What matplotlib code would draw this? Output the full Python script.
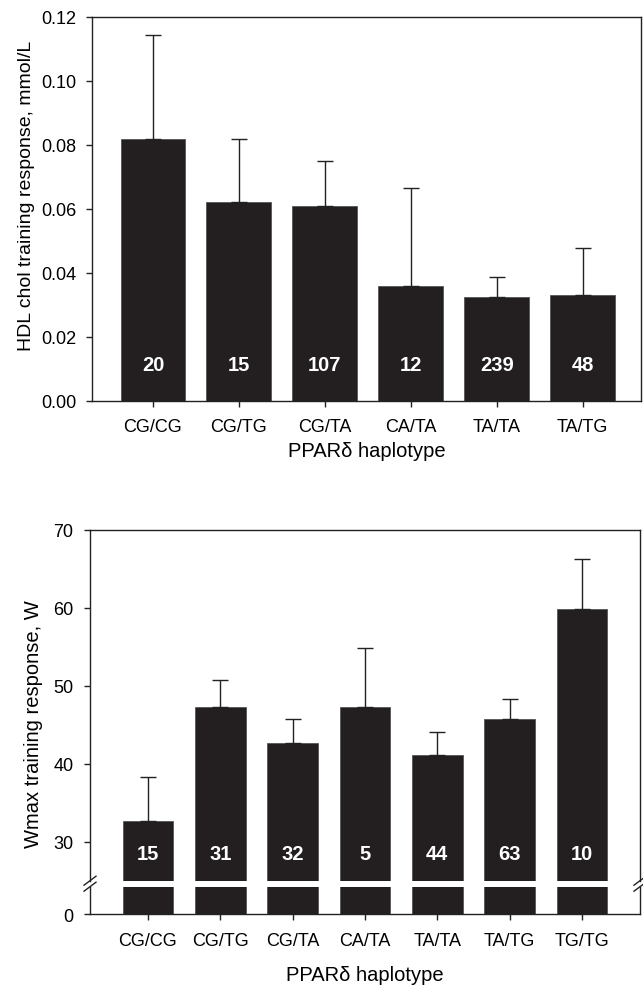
import matplotlib.pyplot as plt
from matplotlib.lines import Line2D

plt.rcParams['font.family'] = ['Liberation Sans', 'DejaVu Sans']

# top panel: HDL cholesterol
hdl_cats = ['CG/CG', 'CG/TG', 'CG/TA', 'CA/TA', 'TA/TA', 'TA/TG']
hdl_mean = [0.0819, 0.0622, 0.0609, 0.0358, 0.0324, 0.0331]
hdl_err = [0.0326, 0.0197, 0.0140, 0.0307, 0.0064, 0.0148]
hdl_n = ['20', '15', '107', '12', '239', '48']

# bottom panel: Wmax
w_cats = ['CG/CG', 'CG/TG', 'CG/TA', 'CA/TA', 'TA/TA', 'TA/TG', 'TG/TG']
w_mean = [32.6, 47.25, 42.67, 47.25, 41.13, 45.71, 59.87]
w_err = [5.77, 3.47, 3.08, 7.58, 2.91, 2.61, 6.42]
w_n = ['15', '31', '32', '5', '44', '63', '10']

bar_color = '#231f20'
W, H = 643, 987

fig = plt.figure(figsize=(W / 100, H / 100), dpi=100)


def px_axes(l, t, r, b):
    return fig.add_axes([l / W, 1 - b / H, (r - l) / W, (b - t) / H])


def style(ax):
    for s in ax.spines.values():
        s.set_linewidth(1.0)
        s.set_color('#222222')
    ax.tick_params(direction='out', length=4, width=1, labelsize=13, color='#222222')


# ---- top chart ----
ax1 = px_axes(92, 18, 641, 402)
x1 = range(len(hdl_cats))
ax1.bar(x1, hdl_mean, width=0.755, color=bar_color, edgecolor='#555555', linewidth=0.6)
ax1.errorbar(x1, hdl_mean, yerr=[[0] * len(hdl_err), hdl_err], fmt='none',
             ecolor='#222222', elinewidth=1, capsize=5.5, capthick=1)
for i, n in enumerate(hdl_n):
    ax1.text(i, 0.0113, n, color='white', fontsize=14.5, fontweight='bold',
             ha='center', va='center')
ax1.set_xlim(-0.71, 5.68)
ax1.set_ylim(0, 0.12)
ax1.set_yticks([0, 0.02, 0.04, 0.06, 0.08, 0.10, 0.12])
ax1.set_yticklabels(['0.00', '0.02', '0.04', '0.06', '0.08', '0.10', '0.12'])
ax1.set_xticks(list(x1))
ax1.set_xticklabels(hdl_cats)
style(ax1)
ax1.tick_params(axis='x', pad=8)
ax1.tick_params(axis='y', pad=7)
ax1.set_xlabel('PPARδ haplotype', fontsize=14.5, labelpad=4.5)
ax1.set_ylabel('HDL chol training response, mmol/L', fontsize=14)
ax1.yaxis.set_label_coords(-0.103, 0.536)

# ---- bottom chart (broken axis) ----
ax2 = px_axes(90, 531, 640, 881.7)
ax3 = px_axes(90, 887.7, 640, 915.3)
x2 = range(len(w_cats))
for ax in (ax2, ax3):
    ax.bar(x2, w_mean, width=0.70, color=bar_color, edgecolor='#555555', linewidth=0.6)
    ax.set_xlim(-0.8, 6.8)
    style(ax)
ax2.errorbar(x2, w_mean, yerr=[[0] * len(w_err), w_err], fmt='none',
             ecolor='#222222', elinewidth=1, capsize=5.5, capthick=1)
for i, n in enumerate(w_n):
    ax2.text(i, 28.55, n, color='white', fontsize=14.5, fontweight='bold',
             ha='center', va='center')
ax2.set_ylim(25, 70)
ax2.set_yticks([30, 40, 50, 60, 70])
ax2.spines['bottom'].set_visible(False)
ax2.tick_params(axis='x', bottom=False, labelbottom=False)
ax2.tick_params(axis='y', pad=8)
ax2.set_ylabel('Wmax training response, W', fontsize=14.5)
ax2.yaxis.set_label_coords(-0.085, 0.45)

ax3.set_ylim(0, 3.54)
ax3.set_yticks([0])
ax3.spines['top'].set_visible(False)
ax3.set_xticks(list(x2))
ax3.set_xticklabels(w_cats)
ax3.tick_params(axis='x', pad=9)
ax3.tick_params(axis='y', pad=8)
ax3.set_xlabel('PPARδ haplotype', fontsize=14.5, labelpad=11.5)

# break marks on both spines
for xs in (90, 640):
    for yc in (881.7, 887.7):
        fig.add_artist(Line2D([(xs - 6) / W, (xs + 6) / W],
                              [1 - (yc + 4.5) / H, 1 - (yc - 4.5) / H],
                              transform=fig.transFigure, color='#222222', lw=1))

fig.savefig('out.png', dpi=100)
